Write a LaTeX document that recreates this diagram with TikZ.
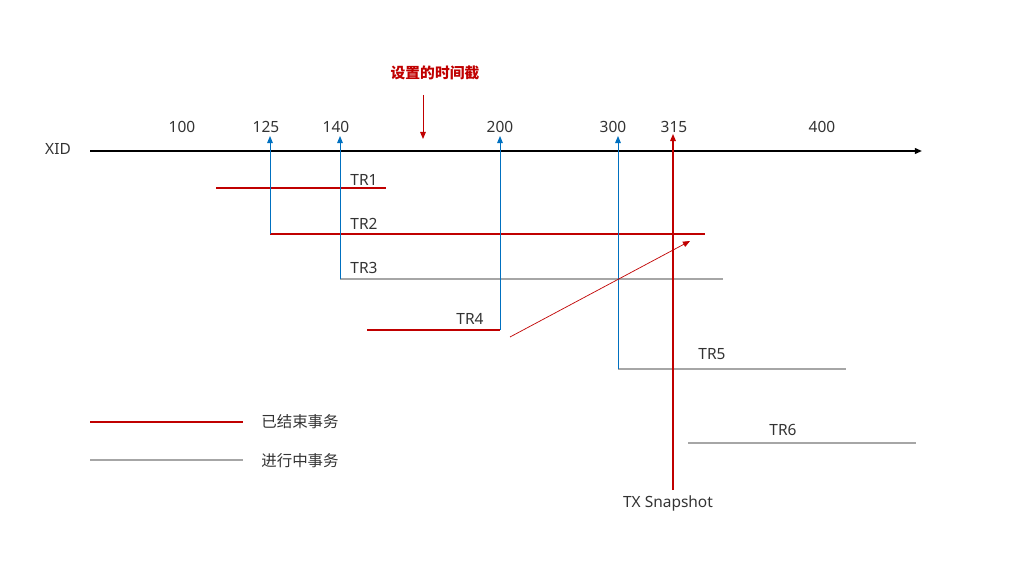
\documentclass[tikz,border=0pt]{standalone}
\usepackage{fontspec}
\setmainfont{Noto Sans}
\newfontfamily\cjk{Noto Sans CJK SC}
\usepackage{tikz}
\usetikzlibrary{arrows.meta,positioning,calc}
\usepackage{xcolor}
\definecolor{txred}{RGB}{192,0,0}
\definecolor{txblue}{RGB}{0,112,192}
\definecolor{txgray}{RGB}{166,166,166}

\begin{document}
\begin{tikzpicture}[
    x=0.025cm, y=-0.025cm,
    lbl/.style={font=\fontsize{11}{13}\selectfont, text=black!80, inner sep=1pt},
    done_tx/.style={txred, line width=1.3pt},
    open_tx/.style={txgray, line width=1.3pt},
    xid_link/.style={-{Triangle[length=5pt,width=4pt]}, txblue, line width=0.7pt},
    snap_link/.style={-{Triangle[length=5pt,width=4pt]}, txred, line width=0.8pt}
]
\useasboundingbox (0,0) rectangle (1024,576);

% XID axis
\coordinate (ax0) at (90,151);
\coordinate (ax1) at (922,151);
\draw[-{Triangle[length=5pt,width=4pt]}, line width=1.2pt] (ax0) -- (ax1);
\node[lbl] (xid) at (58,149) {XID};

% XID values
\node[lbl] (n100) at (182,127) {100};
\node[lbl] (n125) at (266,127) {125};
\node[lbl] (n140) at (336,127) {140};
\node[lbl] (n200) at (500,127) {200};
\node[lbl] (n300) at (613,127) {300};
\node[lbl] (n315) at (674,127) {315};
\node[lbl] (n400) at (822,127) {400};

% time stamp marker
\node[font=\cjk\bfseries\fontsize{10.5}{12}\selectfont, text=txred] (stamp) at (435,73) {设置的时间截};
\coordinate (stamp0) at (423,95);
\coordinate (stamp1) at (423,139);
\draw[-{Triangle[length=5pt,width=4pt]}, txred, line width=0.7pt] (stamp0) -- (stamp1);

% Transactions
\coordinate (tr1a) at (216,188); \coordinate (tr1b) at (386,188);
\coordinate (tr2a) at (270,234); \coordinate (tr2b) at (705,234);
\coordinate (tr3a) at (340,279); \coordinate (tr3b) at (723,279);
\coordinate (tr4a) at (367,330); \coordinate (tr4b) at (500,330);
\coordinate (tr5a) at (618,369); \coordinate (tr5b) at (846,369);
\coordinate (tr6a) at (688,443); \coordinate (tr6b) at (916,443);

\draw[done_tx] (tr1a) -- (tr1b);
\draw[done_tx] (tr2a) -- (tr2b);
\draw[open_tx] (tr3a) -- (tr3b);
\draw[done_tx] (tr4a) -- (tr4b);
\draw[open_tx] (tr5a) -- (tr5b);
\draw[open_tx] (tr6a) -- (tr6b);

\node[lbl] (tr1) at (364,180) {TR1};
\node[lbl] (tr2) at (364,224) {TR2};
\node[lbl] (tr3) at (364,268) {TR3};
\node[lbl] (tr4) at (470,319) {TR4};
\node[lbl] (tr5) at (712,354) {TR5};
\node[lbl] (tr6) at (783,430) {TR6};

% start XIDs on the axis
\coordinate (x125) at (270,136);
\coordinate (x140) at (340,136);
\coordinate (x200) at (500,136);
\coordinate (x300) at (618,136);
\draw[xid_link] (tr2a) -- (x125);
\draw[xid_link] (tr3a) -- (x140);
\draw[xid_link] (tr4b) -- (x200);
\draw[xid_link] (tr5a) -- (x300);

% snapshot
\coordinate (snap0) at (673,490);
\coordinate (snap1) at (673,134);
\draw[snap_link] (snap0) -- (snap1);
\node[lbl] (snap) at (668,503) {TX Snapshot};
\coordinate (tr4c) at (510,337);
\coordinate (tr2c) at (690,241);
\draw[-{Triangle[length=5pt,width=4pt]}, txred, line width=0.5pt] (tr4c) -- (tr2c);

% legend
\coordinate (lg1a) at (90,422); \coordinate (lg1b) at (243,422);
\coordinate (lg2a) at (90,460); \coordinate (lg2b) at (243,460);
\draw[done_tx] (lg1a) -- (lg1b);
\draw[open_tx] (lg2a) -- (lg2b);
\node[lbl, font=\cjk\fontsize{11}{13}\selectfont] (lg_done) at (300,422) {已结束事务};
\node[lbl, font=\cjk\fontsize{11}{13}\selectfont] (lg_open) at (300,461) {进行中事务};

\end{tikzpicture}
\end{document}
